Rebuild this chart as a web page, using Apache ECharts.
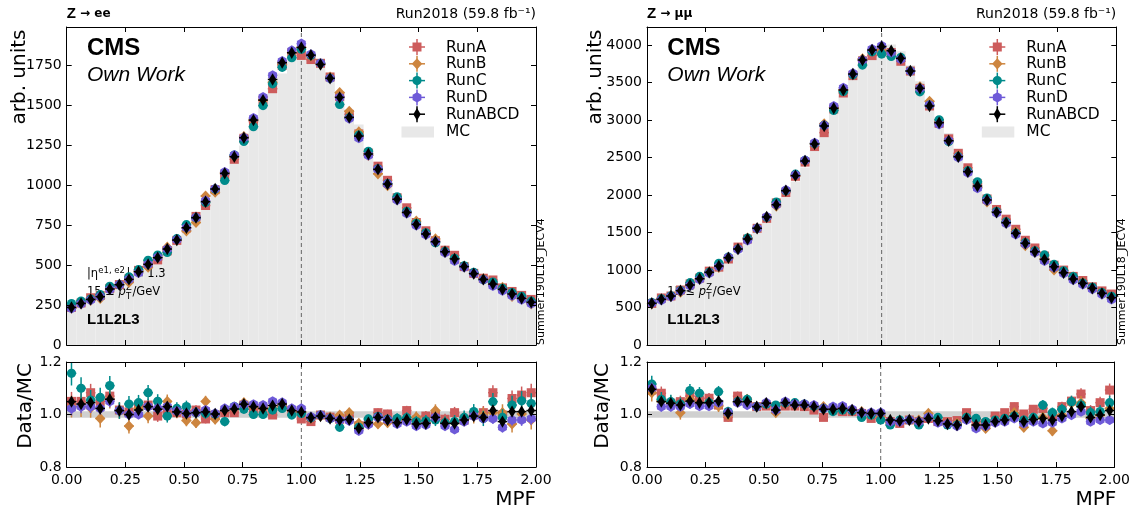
<!DOCTYPE html>
<html><head><meta charset="utf-8">
<script src="https://cdn.jsdelivr.net/npm/echarts@6/dist/echarts.min.js"></script>
<style>html,body{margin:0;padding:0;background:#fff}#c{width:1133px;height:514px}</style>
</head><body><div id="c"></div>
<script>
// ---------------- data ----------------
const nBins = 49;                       // MPF bins between 0 and 2
const binEdges = Array.from({length: nBins + 1}, (_, i) => i * 2 / nBins);
const xTicks = [0, 0.25, 0.5, 0.75, 1.0, 1.25, 1.5, 1.75, 2.0];
const runs = ['RunA', 'RunB', 'RunC', 'RunD', 'RunABCD'];

// Z -> ee : RunABCD distribution (arb. units)
const eeABCD = [235,260,285,302,350,377,410,458,504,546,600,656,733,796,896,975,1073,1177,1296,1406,1531,1660,1765,1827,1860,1812,1754,1667,1548,1423,1306,1194,1098,1006,911,829,754,694,646,583,538,490,446,410,381,348,319,292,267];
// Z -> ee : Data/MC ratios
const eeRatioA = [1.05,1.05,1.083,1.05,1.07,1.017,1.01,1.036,1.036,0.994,1.01,1.007,1.002,1.017,0.983,0.998,1.007,1.007,1.036,1.023,1.023,0.998,1.03,1.015,0.983,0.973,0.998,0.99,0.982,0.994,0.957,0.973,1.007,1.002,0.979,1.015,0.979,0.994,0.998,0.982,1.007,0.979,0.998,1.007,1.083,0.998,1.061,1.074,1.083];
const eeRatioB = [1.03,1.03,1.025,0.985,1.058,1.015,0.956,1.023,0.994,1.023,1.05,1.01,0.977,0.969,1.05,0.982,1.017,1.023,1.045,1.03,1.023,1.023,1.034,1.015,1.01,0.985,0.994,0.99,0.998,1.007,0.966,0.962,0.964,0.969,0.973,0.979,0.99,0.969,1.015,0.969,0.969,0.982,0.994,0.998,1.007,1.007,0.964,1.002,0.979];
const eeRatioC = [1.157,1.10,1.055,1.065,1.11,1.015,1.04,1.045,1.083,1.05,0.994,1.023,1.03,1.007,1.004,1.002,0.973,1.03,1.02,1.0,1.0,1.017,1.023,0.998,1.004,0.988,0.998,0.985,0.951,0.979,0.951,0.983,0.992,0.982,0.985,0.988,0.973,0.976,0.979,0.969,0.973,0.989,1.011,0.985,1.049,0.989,1.036,1.052,1.042];
const eeRatioD = [1.023,1.03,1.03,1.023,1.05,1.015,1.0,1.0,1.03,1.023,1.03,1.013,1.004,1.007,1.017,1.004,1.023,1.03,1.039,1.039,1.036,1.05,1.046,1.023,1.023,0.991,0.998,0.985,0.979,0.976,0.938,0.962,0.989,0.979,0.964,0.973,0.956,0.96,0.989,0.956,0.943,0.973,0.994,0.985,0.984,0.951,0.979,0.979,0.984];
const eeRatioABCD = [1.049,1.04,1.045,1.023,1.058,1.015,1.0,1.017,1.03,1.02,1.03,1.01,1.004,1.007,1.01,1.002,1.015,1.021,1.039,1.03,1.023,1.034,1.04,1.015,1.01,0.988,0.994,0.985,0.979,0.981,0.947,0.969,0.989,0.979,0.969,0.981,0.964,0.966,0.989,0.966,0.966,0.979,0.994,0.989,1.015,0.973,1.011,1.011,1.015];

// Z -> mumu : RunABCD distribution (arb. units)
const mmABCD = [556,609,653,724,800,884,969,1053,1164,1280,1413,1556,1707,1871,2058,2258,2453,2680,2920,3156,3400,3613,3800,3933,3978,3924,3822,3653,3422,3187,2964,2724,2511,2311,2120,1933,1769,1631,1489,1356,1244,1142,1044,964,880,822,756,689,631];
// Z -> mumu : Data/MC ratios
const mmRatioA = [1.093,1.081,1.043,1.049,1.07,1.055,1.062,1.036,0.989,1.07,1.049,1.03,1.032,1.03,1.032,1.032,1.03,1.017,0.989,1.017,1.011,1.011,1.004,0.985,0.989,0.973,0.966,0.979,0.973,0.985,0.973,0.973,0.977,1.007,0.973,0.966,0.994,1.007,1.03,1.002,1.02,1.023,0.998,1.03,1.051,1.078,1.015,1.045,1.093];
const mmRatioB = [1.083,1.051,1.043,1.007,1.058,1.043,1.045,1.032,0.998,1.049,1.058,1.03,1.043,1.007,1.043,1.036,1.036,1.032,1.03,1.023,1.023,1.017,1.011,1.002,0.994,0.969,0.976,0.979,0.979,1.004,0.979,0.966,0.966,0.989,0.951,0.947,0.977,0.982,1.007,0.951,0.981,0.989,0.938,0.998,1.043,1.045,0.985,0.998,1.023];
const mmRatioC = [1.116,1.058,1.049,1.04,1.091,1.081,1.045,1.087,1.011,1.049,1.058,1.03,1.04,1.036,1.045,1.045,1.04,1.032,1.023,1.011,1.017,1.014,0.989,0.998,0.979,0.96,0.979,0.979,0.96,0.989,0.989,0.96,0.96,0.989,0.985,0.973,0.979,0.985,0.994,0.979,0.989,1.036,1.007,1.02,1.049,1.036,1.007,1.011,1.045];
const mmRatioD = [1.10,1.03,1.03,1.03,1.04,1.032,1.032,1.045,1.007,1.045,1.036,1.03,1.045,1.017,1.049,1.04,1.04,1.036,1.023,1.03,1.032,1.02,1.007,1.007,1.007,0.973,0.973,0.979,0.973,0.989,0.969,0.964,0.956,0.979,0.947,0.956,0.969,0.973,0.985,0.966,0.973,0.966,0.969,0.985,0.998,1.011,0.973,0.979,0.979];
const mmRatioABCD = [1.096,1.049,1.043,1.036,1.051,1.045,1.045,1.051,1.004,1.049,1.049,1.03,1.043,1.017,1.045,1.036,1.036,1.03,1.02,1.02,1.023,1.017,1.007,1.004,1.004,0.979,0.976,0.979,0.973,0.985,0.976,0.964,0.96,0.985,0.96,0.96,0.973,0.979,0.994,0.973,0.981,0.985,0.979,0.994,1.011,1.03,0.989,0.998,1.015];

// relative statistical uncertainty of each run at the peak bin
const eeRelErr = {RunA: 0.012, RunB: 0.014, RunC: 0.014, RunD: 0.009, RunABCD: 0.005};
const mmRelErr = {RunA: 0.009, RunB: 0.011, RunC: 0.010, RunD: 0.007, RunABCD: 0.004};
const mcBand = [0.988, 1.012];

// ---------------- style ----------------
const COLORS = {RunA: '#cd5c5c', RunB: '#cd853f', RunC: '#008b8b', RunD: '#6e5ad8', RunABCD: '#000000'};
const SHAPES = {RunA: 'square', RunB: 'diamond', RunC: 'circle', RunD: 'hexagon', RunABCD: 'thin'};
const MC_COLOR = '#e8e8e8';
const FONT = 'DejaVu Sans';

function markerShape(kind, cx, cy, color) {
  if (kind === 'square') return {type: 'rect', shape: {x: cx - 4.5, y: cy - 4.5, width: 9, height: 9}, style: {fill: color}};
  if (kind === 'diamond') return {type: 'polygon', shape: {points: [[cx, cy - 5.6], [cx + 5.2, cy], [cx, cy + 5.6], [cx - 5.2, cy]]}, style: {fill: color}};
  if (kind === 'circle') return {type: 'circle', shape: {cx: cx, cy: cy, r: 4.6}, style: {fill: color}};
  if (kind === 'hexagon') {
    const pts = [];
    for (let k = 0; k < 6; k++) { const a = Math.PI / 2 + k * Math.PI / 3; pts.push([cx + 5.1 * Math.cos(a), cy - 5.1 * Math.sin(a)]); }
    return {type: 'polygon', shape: {points: pts}, style: {fill: color}};
  }
  return {type: 'polygon', shape: {points: [[cx, cy - 6.2], [cx + 3.7, cy], [cx, cy + 6.2], [cx - 3.7, cy]]}, style: {fill: color}};
}

function pointRender(kind, color) {
  return function (params, api) {
    const x = api.value(0), y = api.value(1), e = api.value(2), hw = api.value(3);
    const c = api.coord([x, y]);
    const l = api.coord([x - hw, y]), r = api.coord([x + hw, y]);
    const t = api.coord([x, y + e]), b = api.coord([x, y - e]);
    return {type: 'group', children: [
      {type: 'line', shape: {x1: l[0], y1: c[1], x2: r[0], y2: c[1]}, style: {stroke: color, lineWidth: 1.5}},
      {type: 'line', shape: {x1: c[0], y1: t[1], x2: c[0], y2: b[1]}, style: {stroke: color, lineWidth: 1.5}},
      markerShape(kind, c[0], c[1], color)
    ]};
  };
}

function mcRender(params, api) {
  const p0 = api.coord([api.value(0), 0]);
  const p1 = api.coord([api.value(1), api.value(2)]);
  return {type: 'rect', shape: {x: p0[0], y: p1[1], width: p1[0] - p0[0], height: p0[1] - p1[1]},
          style: {fill: MC_COLOR}};
}

function buildPanel(abcd, ratios, relErr, g, yMax) {
  const gm = 2 * g, gr = 2 * g + 1;          // grid indices
  const mc = abcd.map((v, i) => v / ratios.RunABCD[i]);
  const mcPeak = Math.max(...mc);
  const series = [];
  series.push({type: 'custom', name: 'MC', xAxisIndex: 2 * gm, yAxisIndex: 2 * gm, z: 1, silent: true,
    renderItem: mcRender, data: mc.map((v, i) => [binEdges[i], binEdges[i + 1], v])});
  series.push({type: 'line', xAxisIndex: 2 * gm, yAxisIndex: 2 * gm, z: 2, symbol: 'none', silent: true,
    lineStyle: {color: '#666', width: 1, type: [4, 3]}, data: [[1, 0], [1, yMax]]});
  series.push({type: 'line', xAxisIndex: 2 * gr, yAxisIndex: 2 * gr, z: 1, symbol: 'none', silent: true,
    lineStyle: {color: '#d0d0d0', width: (mcBand[1] - mcBand[0]) * 262.5}, data: [[0, 1], [2, 1]]});
  series.push({type: 'line', xAxisIndex: 2 * gr, yAxisIndex: 2 * gr, z: 2, symbol: 'none', silent: true,
    lineStyle: {color: '#666', width: 1, type: [4, 3]}, data: [[1, 0.8], [1, 1.2]]});
  runs.forEach(run => {
    const rr = ratios[run];
    const hw = 1 / nBins;
    const mainData = rr.map((r, i) => {
      const x = (binEdges[i] + binEdges[i + 1]) / 2;
      const v = mc[i] * r;
      const rel = relErr[run] * Math.sqrt(mcPeak / mc[i]);
      return [x, v, v * rel, hw];
    });
    const ratioData = rr.map((r, i) => {
      const x = (binEdges[i] + binEdges[i + 1]) / 2;
      const rel = relErr[run] * Math.sqrt(mcPeak / mc[i]);
      return [x, r, r * rel, hw];
    });
    series.push({type: 'custom', name: run, xAxisIndex: 2 * gm, yAxisIndex: 2 * gm, z: 5, silent: true,
      renderItem: pointRender(SHAPES[run], COLORS[run]), data: mainData});
    series.push({type: 'custom', name: run, xAxisIndex: 2 * gr, yAxisIndex: 2 * gr, z: 5, silent: true, clip: true,
      renderItem: pointRender(SHAPES[run], COLORS[run]), data: ratioData});
  });
  return series;
}

// ---------------- layout ----------------
const panelLeft = [66.7, 647];
const plotW = 469.3;
const mainTop = 27, mainH = 318, ratioTop = 362, ratioH = 105;
const grids = [];
panelLeft.forEach(l => {
  grids.push({left: l, top: mainTop, width: plotW, height: mainH});
  grids.push({left: l, top: ratioTop, width: plotW, height: ratioH});
});

const axisLine = {show: true, onZero: false, lineStyle: {color: '#000', width: 1}};
const axisTick = {show: true, inside: true, length: 5, lineStyle: {color: '#000', width: 1}};
const xAxes = [], yAxes = [];
const yDefs = [
  {min: 0, max: 1988, interval: 250, fmt: v => (v % 250 === 0 ? String(v) : '')},
  {min: 0.8, max: 1.2, interval: 0.2, fmt: v => v.toFixed(1)},
  {min: 0, max: 4240, interval: 500, fmt: v => (v % 500 === 0 ? String(v) : '')},
  {min: 0.8, max: 1.2, interval: 0.2, fmt: v => v.toFixed(1)}
];
for (let g = 0; g < 4; g++) {
  const isRatio = g % 2 === 1;
  xAxes.push({type: 'value', gridIndex: g, position: 'bottom', min: 0, max: 2, interval: 0.25, z: 10,
    axisLine, axisTick, splitLine: {show: false},
    axisLabel: {show: isRatio, formatter: v => v.toFixed(2), fontSize: 14, fontFamily: FONT, color: '#000', margin: 6}});
  xAxes.push({type: 'value', gridIndex: g, position: 'top', min: 0, max: 2, interval: 0.25, z: 10,
    axisLine, axisTick, splitLine: {show: false}, axisLabel: {show: false}});
  const d = yDefs[g];
  yAxes.push({type: 'value', gridIndex: g, position: 'left', min: d.min, max: d.max, interval: d.interval, z: 10,
    axisLine, axisTick, splitLine: {show: false},
    axisLabel: {formatter: d.fmt, fontSize: 14, fontFamily: FONT, color: '#000', margin: 5, showMaxLabel: isRatio}});
  yAxes.push({type: 'value', gridIndex: g, position: 'right', min: d.min, max: d.max, interval: d.interval, z: 10,
    axisLine, axisTick, splitLine: {show: false}, axisLabel: {show: false}});
}

let series = [];
series = series.concat(buildPanel(eeABCD, {RunA: eeRatioA, RunB: eeRatioB, RunC: eeRatioC, RunD: eeRatioD, RunABCD: eeRatioABCD}, eeRelErr, 0, 1988));
series = series.concat(buildPanel(mmABCD, {RunA: mmRatioA, RunB: mmRatioB, RunC: mmRatioC, RunD: mmRatioD, RunABCD: mmRatioABCD}, mmRelErr, 1, 4240));

// ---------------- texts & legend ----------------
const graphics = [];
function T(x, y, text, font, extra) {
  graphics.push(Object.assign({type: 'text', x: x, y: y, z: 3, silent: true,
    style: Object.assign({text: text, font: font, fill: '#000', textAlign: 'left', textVerticalAlign: 'middle'}, extra || {})}));
}
function panelTexts(ox, channel, showEta) {
  const L = panelLeft[ox];
  const R = L + plotW;
  const d = L - 66.7;
  const x0 = 87 + d;
  graphics.push({type: 'text', x: L, y: 14, z: 3, silent: true, style: {
    text: '{z|Z}{s| \u2192 ' + channel + '}', textVerticalAlign: 'middle',
    rich: {z: {font: 'bold 15px "Liberation Sans"', fill: '#000'}, s: {font: 'bold 12px "DejaVu Sans"', fill: '#000'}}}});
  T(R, 14, 'Run2018 (59.8 fb\u207B\u00B9)', '14px "DejaVu Sans"', {textAlign: 'right'});
  T(x0, 60, 'CMS', 'bold 24px "Liberation Sans"', {textVerticalAlign: 'bottom'});
  T(x0, 86, 'Own Work', 'italic 21px "Liberation Sans"', {textVerticalAlign: 'bottom'});
  T(x0, 327, 'L1L2L3', 'bold 15px "Liberation Sans"', {textVerticalAlign: 'bottom'});
  if (showEta) {
    T(x0, 280, '|\u03B7', '11.5px "DejaVu Sans"', {textVerticalAlign: 'bottom'});
    T(x0 + 11.3, 275, 'e1, e2', '8.5px "DejaVu Sans"', {textVerticalAlign: 'bottom'});
    T(x0 + 39.5, 280, '| < 1.3', '11.5px "DejaVu Sans"', {textVerticalAlign: 'bottom'});
  }
  T(x0, 298, '15 \u2264 ', '11.5px "DejaVu Sans"', {textVerticalAlign: 'bottom'});
  T(x0 + 31.5, 298, 'p', 'italic 11.5px "DejaVu Sans"', {textVerticalAlign: 'bottom'});
  T(x0 + 39, 292, 'Z', '8.5px "DejaVu Sans"', {textVerticalAlign: 'bottom'});
  T(x0 + 39, 301, 'T', '8.5px "DejaVu Sans"', {textVerticalAlign: 'bottom'});
  T(x0 + 45.5, 298, '/GeV', '11.5px "DejaVu Sans"', {textVerticalAlign: 'bottom'});
  // vertical JEC tag
  graphics.push({type: 'text', x: R + 5.5, y: 345, rotation: Math.PI / 2, z: 3, silent: true, style: {
    text: 'Summer19UL18_JECV4', font: '11px "DejaVu Sans"', fill: '#000', textAlign: 'left', textVerticalAlign: 'middle'}});
  // axis titles
  graphics.push({type: 'text', x: L - (ox ? 51 : 47), y: 77, rotation: Math.PI / 2, z: 3, silent: true, style: {
    text: 'arb. units', font: '20px "DejaVu Sans"', fill: '#000', textAlign: 'center', textVerticalAlign: 'middle'}});
  graphics.push({type: 'text', x: L - (ox ? 44 : 41), y: 406, rotation: Math.PI / 2, z: 3, silent: true, style: {
    text: 'Data/MC', font: '20px "DejaVu Sans"', fill: '#000', textAlign: 'center', textVerticalAlign: 'middle'}});
  T(R, 500, 'MPF', '20px "DejaVu Sans"', {textAlign: 'right'});
  // legend
  const mx = 417 + d, tx = 446 + d;
  const rows = [47, 63.8, 80.6, 97.4, 114.2];
  runs.forEach((run, k) => {
    const cy = rows[k], col = COLORS[run];
    graphics.push({type: 'line', z: 3, silent: true, shape: {x1: mx - 8, y1: cy, x2: mx + 8, y2: cy}, style: {stroke: col, lineWidth: 1.5}});
    graphics.push({type: 'line', z: 3, silent: true, shape: {x1: mx, y1: cy - 8, x2: mx, y2: cy + 8}, style: {stroke: col, lineWidth: 1.5}});
    const m = markerShape(SHAPES[run], mx, cy, col); m.z = 3; m.silent = true;
    graphics.push(m);
    T(tx, cy + 0.5, run, '15.5px "DejaVu Sans"');
  });
  graphics.push({type: 'rect', z: 3, silent: true, shape: {x: mx - 15.5, y: 126.5, width: 32.5, height: 11}, style: {fill: MC_COLOR}});
  T(tx, 132, 'MC', '15.5px "DejaVu Sans"');
}
panelTexts(0, 'ee', true);
panelTexts(1, '\u03BC\u03BC', false);

const chart = echarts.init(document.getElementById('c'), null, {renderer: 'canvas'});
chart.setOption({
  animation: false,
  backgroundColor: '#fff',
  grid: grids,
  xAxis: xAxes,
  yAxis: yAxes,
  series: series,
  graphic: {elements: graphics}
});
</script></body></html>
